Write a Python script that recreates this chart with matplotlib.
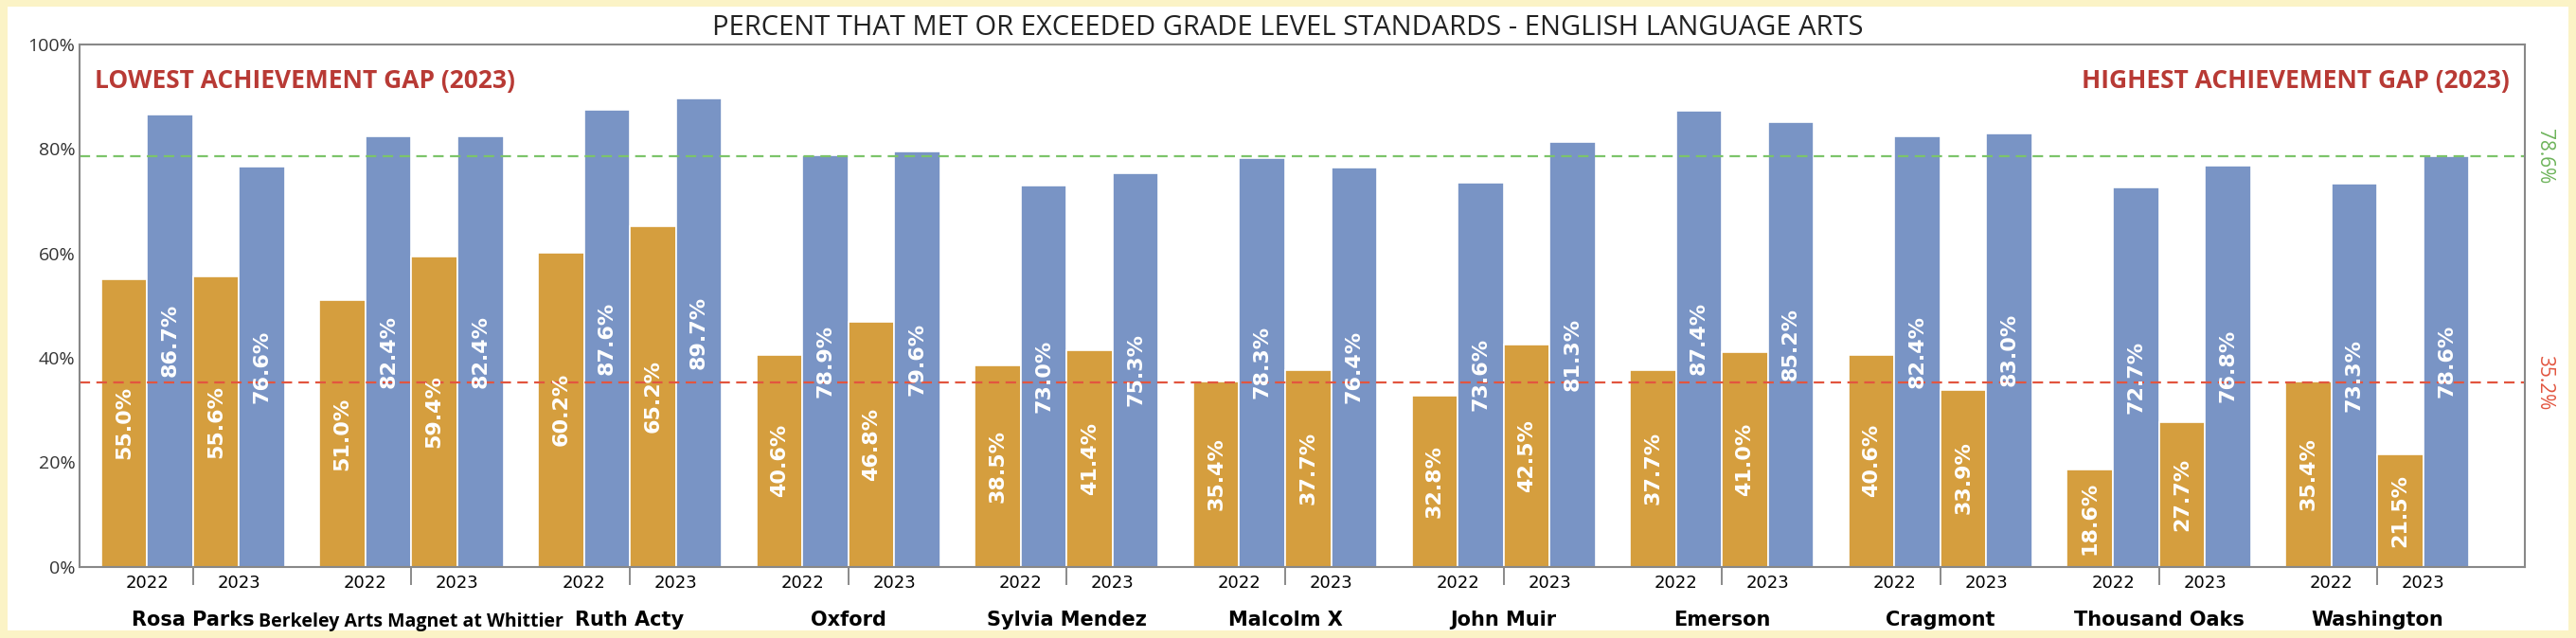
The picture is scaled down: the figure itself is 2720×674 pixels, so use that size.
import numpy as np
import matplotlib.pyplot as plt
from matplotlib.patches import Rectangle

plt.rcParams['font.family'] = ['Open Sans', 'DejaVu Sans']

schools = ['Rosa Parks', 'Berkeley Arts Magnet at Whittier', 'Ruth Acty', 'Oxford',
           'Sylvia Mendez', 'Malcolm X', 'John Muir', 'Emerson', 'Cragmont',
           'Thousand Oaks', 'Washington']
years = ['2022', '2023']
gap_2022 = [55.0, 51.0, 60.2, 40.6, 38.5, 35.4, 32.8, 37.7, 40.6, 18.6, 35.4]
other_2022 = [86.7, 82.4, 87.6, 78.9, 73.0, 78.3, 73.6, 87.4, 82.4, 72.7, 73.3]
gap_2023 = [55.6, 59.4, 65.2, 46.8, 41.4, 37.7, 42.5, 41.0, 33.9, 27.7, 21.5]
other_2023 = [76.6, 82.4, 89.7, 79.6, 75.3, 76.4, 81.3, 85.2, 83.0, 76.8, 78.6]
green_line = 78.6
red_line = 35.2

orange = '#D59E3E'
blue = '#7994C5'

fig = plt.figure(figsize=(27.2, 6.74), dpi=100, facecolor='#FBF3C6')
fig.patches.append(Rectangle((0.003, 0.012), 0.994, 0.978, transform=fig.transFigure,
                             facecolor='white', edgecolor='none', zorder=-1))
ax = fig.add_axes([0.031, 0.112, 0.949, 0.818])

pitch = 4.75
starts = np.arange(len(schools)) * pitch
sets = [(gap_2022, orange, 0), (other_2022, blue, 1), (gap_2023, orange, 2), (other_2023, blue, 3)]
for vals, col, k in sets:
    x = starts + k + 0.5
    ax.bar(x, vals, width=1.0, color=col, edgecolor='white', linewidth=1.2)
    for xi, v in zip(x, vals):
        ax.text(xi, v / 2, '%.1f%%' % v, rotation=90, ha='center', va='center',
                color='white', fontsize=16, fontweight='bold', family='DejaVu Sans')

ax.axhline(green_line, color='#7CC46A', ls='--', lw=1.6, dashes=(5, 3))
ax.axhline(red_line, color='#E2553F', ls='--', lw=1.6, dashes=(5, 3))
ax.text(1.004, green_line, '%.1f%%' % green_line, transform=ax.get_yaxis_transform(),
        rotation=270, color='#6DB35A', fontsize=15, ha='left', va='center')
ax.text(1.004, red_line, '%.1f%%' % red_line, transform=ax.get_yaxis_transform(),
        rotation=270, color='#E2553F', fontsize=15, ha='left', va='center')

ax.set_xlim(-0.46, starts[-1] + 4 + 1.2)
ax.set_ylim(0, 100)
ax.set_yticks(range(0, 101, 20))
ax.set_yticklabels(['%d%%' % t for t in range(0, 101, 20)], fontsize=14, color='#333333')

ax.set_xticks(np.concatenate([starts + 1, starts + 3]))
ax.set_xticklabels([years[0]] * len(schools) + [years[1]] * len(schools), fontsize=13,
                   family='DejaVu Sans')
ax.tick_params(axis='x', length=0, pad=6)
ax.set_xticks(starts + 2, minor=True)
ax.tick_params(axis='x', which='minor', length=14, width=1.2, color='#777777')
ax.tick_params(axis='y', length=0)

for s, name in zip(starts, schools):
    if len(name) > 20:
        ax.text(s + 2, -0.088, name, transform=ax.get_xaxis_transform(), ha='center',
                va='top', fontsize=14, fontweight='bold')
    else:
        ax.text(s + 2, -0.085, name, transform=ax.get_xaxis_transform(), ha='center',
                va='top', fontsize=15, fontweight='bold', family='DejaVu Sans')

for sp in ax.spines.values():
    sp.set_color('#888888')
    sp.set_linewidth(1.5)

ax.text(0.006, 0.955, 'LOWEST ACHIEVEMENT GAP (2023)', transform=ax.transAxes,
        color='#B83A35', fontsize=19, fontweight='bold', ha='left', va='top')
ax.text(0.994, 0.955, 'HIGHEST ACHIEVEMENT GAP (2023)', transform=ax.transAxes,
        color='#B83A35', fontsize=19, fontweight='bold', ha='right', va='top')
fig.text(0.5, 0.978, 'PERCENT THAT MET OR EXCEEDED GRADE LEVEL STANDARDS - ENGLISH LANGUAGE ARTS',
         ha='center', va='top', fontsize=21, color='#222222')

plt.savefig('out.png', dpi=100, facecolor=fig.get_facecolor())
